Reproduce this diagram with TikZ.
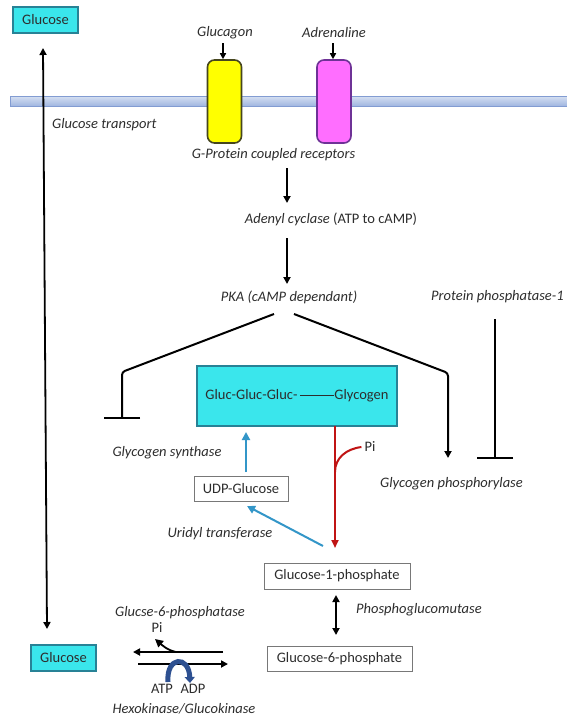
\documentclass[tikz,border=0pt]{standalone}
\usepackage{fontspec}
\setmainfont{Carlito}
\usetikzlibrary{arrows.meta}
\definecolor{cyanbox}{RGB}{58,230,236}
\definecolor{cyanedge}{RGB}{40,130,150}
\definecolor{memtop}{RGB}{214,224,242}
\definecolor{membot}{RGB}{160,182,224}
\definecolor{memedge}{RGB}{130,156,210}
\definecolor{recyel}{RGB}{255,255,0}
\definecolor{recyeledge}{RGB}{70,70,30}
\definecolor{recmag}{RGB}{255,110,255}
\definecolor{recmagedge}{RGB}{110,50,150}
\definecolor{bluearr}{RGB}{51,150,200}
\definecolor{redarr}{RGB}{192,20,20}
\definecolor{atpblue}{RGB}{45,80,145}
\definecolor{txt}{RGB}{45,45,45}
\definecolor{greyedge}{RGB}{120,120,120}
\begin{document}
\begin{tikzpicture}[x=1pt,y=-1pt,
  base/.style={font=\fontsize{14.5}{16}\selectfont, text=txt, inner sep=0pt},
  lbl/.style={base, font=\fontsize{14.5}{16}\selectfont\itshape},
  cbox/.style={base, draw=cyanedge, line width=1.2pt, fill=cyanbox},
  wbox/.style={base, draw=greyedge, line width=1pt, fill=white},
  rec/.style={rectangle, rounded corners=7pt, line width=1.6pt, minimum width=34pt, minimum height=83pt, inner sep=0pt},
  arr/.style={-{Triangle[length=7pt,width=7pt]}, line width=1.8pt, black},
  darr/.style={{Triangle[length=7pt,width=7pt]}-{Triangle[length=7pt,width=7pt]}, line width=1.8pt, black},
  inh/.style={-{Bar[width=36pt,line width=2.2pt]}, line width=2pt, black, rounded corners=3pt},
  barr/.style={-{Triangle[length=8pt,width=8pt]}, line width=2pt, bluearr},
]
\useasboundingbox (0,0) rectangle (566,721);
\fill[white] (0,0) rectangle (566,721);

% membrane
\shade[top color=memtop, bottom color=membot, draw=memedge, line width=0.8pt] (10,96) rectangle (570,106);

% receptors
\node[rec, draw=recyeledge, fill=recyel] (rec1) at (224.5,101.5) {};
\node[rec, draw=recmagedge, fill=recmag] (rec2) at (334,101.5) {};

% boxes
\node[cbox, minimum width=65pt, minimum height=26pt] (glutop) at (45.5,20) {Glucose};
\node[cbox, minimum width=65pt, minimum height=26pt] (glubot) at (63.5,658) {Glucose};
\node[cbox, minimum width=200pt, minimum height=60pt] (glyc) at (297,396) {Gluc-Gluc-Gluc-\hspace{3pt}\rule[0.27em]{34pt}{0.5pt}Glycogen};
\node[wbox, minimum width=94pt, minimum height=25pt] (udp) at (241,488.5) {UDP-Glucose};
\node[wbox, minimum width=146pt, minimum height=26pt] (g1p) at (337,576) {Glucose-1-phosphate};
\node[wbox, minimum width=145pt, minimum height=25pt] (g6p) at (339.5,658.5) {Glucose-6-phosphate};

% labels
\node[lbl] (glucagon) at (225,33) {Glucagon};
\node[lbl] (adren) at (334,33) {Adrenaline};
\node[lbl, anchor=west] (gtrans) at (52,125) {Glucose transport};
\node[lbl] (gpcr) at (273.5,155) {G-Protein coupled receptors};
\node[base] (adenyl) at (331,219) {\itshape Adenyl cyclase\upshape\ (ATP to cAMP)};
\node[lbl] (pka) at (289,297) {PKA (cAMP dependant)};
\node[lbl, anchor=west] (pp1) at (431,297) {Protein phosphatase-1};
\node[lbl] (gsyn) at (167,453) {Glycogen synthase};
\node[lbl] (utrans) at (220,534) {Uridyl transferase};
\node[lbl] (gphos) at (451.5,484) {Glycogen phosphorylase};
\node[base] (pi1) at (370,447) {Pi};
\node[lbl, anchor=west] (pgm) at (356,610) {Phosphoglucomutase};
\node[lbl] (g6pase) at (180,613) {Glucse-6-phosphatase};
\node[base] (pi2) at (157,628) {Pi};
\node[base] (atp) at (162,689) {ATP};
\node[base] (adp) at (193,689) {ADP};
\node[lbl] (hexo) at (184,709) {Hexokinase/Glucokinase};

% hormone arrows
\coordinate (h1) at (223,43);
\coordinate (h2) at (333,43);
\draw[-{Triangle[length=6pt,width=6pt]}, line width=1.5pt] (h1) -- (rec1.north -| h1);
\draw[-{Triangle[length=6pt,width=6pt]}, line width=1.5pt] (h2) -- (rec2.north -| h2);

% glucose transport
\coordinate (gt1) at (43,48);
\coordinate (gt2) at (47,629);
\draw[darr] (gt1) -- (gt2);

% cascade
\coordinate (c1) at (287,168);
\coordinate (c2) at (287,203);
\coordinate (c3) at (287,238);
\coordinate (c4) at (287,284);
\draw[arr] (c1) -- (c2);
\draw[arr] (c3) -- (c4);

% PKA branches
\coordinate (pl) at (274,314);
\coordinate (pr) at (294,314);
\coordinate (pl2) at (122,372);
\coordinate (pl3) at (122,419);
\coordinate (pr2) at (448,373);
\coordinate (pr3) at (448,458);
\coordinate (pp1a) at (495,319);
\coordinate (pp1b) at (495,459);
\draw[inh] (pl) -- (pl2) -- (pl3);
\draw[-{Triangle[length=7pt,width=7pt]}, line width=2pt, rounded corners=3pt] (pr) -- (pr2) -- (pr3);
\draw[inh] (pp1a) -- (pp1b);

% glycogen synthesis (blue)
\coordinate (udpup1) at (246,472);
\coordinate (udpup2) at (246,432);
\draw[barr] (udpup1) -- (udpup2);
\coordinate (g1pt) at (323,546);
\coordinate (udpin) at (247,506);
\draw[barr] (g1pt) -- (udpin);

% glycogenolysis (red)
\coordinate (rd1) at (335,426);
\coordinate (rd2) at (335,548);
\coordinate (rd3) at (335,472);
\draw[-{Triangle[length=8pt,width=7pt]}, line width=2pt, redarr] (rd1) -- (rd2);
\draw[line width=2pt, redarr] ([xshift=-3pt]pi1.west) .. controls (346,449) and (335,458) .. (rd3);

% phosphoglucomutase
\coordinate (pg1) at (336,595);
\coordinate (pg2) at (336,635);
\draw[darr] (pg1) -- (pg2);

% glucose <-> G6P
\coordinate (la1) at (223,652);
\coordinate (la2) at (133,652);
\coordinate (ra1) at (138,664);
\coordinate (ra2) at (228,664);
\draw[arr] (la1) -- (la2);
\draw[arr] (ra1) -- (ra2);
\coordinate (pij) at (176,652);
\coordinate (pitip) at (155,639);
\coordinate (atpj1) at (168,682);
\coordinate (atpj2) at (190,683);
\draw[line width=1.8pt, -{Triangle[length=8pt,width=8pt]}] (pij) .. controls (167,650) and (162,645) .. (pitip);
\draw[line width=5pt, atpblue, -{Triangle[length=6pt,width=10pt]}] (atpj1) .. controls (166,656) and (189,655) .. (atpj2);
\end{tikzpicture}
\end{document}
